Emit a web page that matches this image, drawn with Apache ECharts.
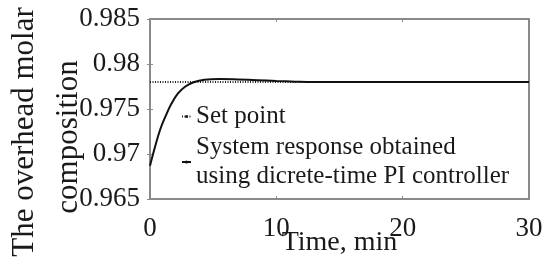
<!DOCTYPE html>
<html>
<head>
<meta charset="utf-8">
<script src="https://cdn.jsdelivr.net/npm/echarts@6/dist/echarts.min.js"></script>
<style>
  html, body { margin: 0; padding: 0; background: #fff; }
  #chart { width: 544px; height: 266px; }
</style>
</head>
<body>
<div id="chart"></div>
<script>
// values
var timeMin = [0, 0.4, 0.8, 1.2, 1.7, 2.2, 2.8, 3.5, 4.3, 5.5, 7, 8.5, 10, 11.5, 13, 15, 20, 25, 30];
var response = [0.9687, 0.9708, 0.9727, 0.9741, 0.9756, 0.9767, 0.9775, 0.9780, 0.97825, 0.97833, 0.97828, 0.9782, 0.97811, 0.97804, 0.978, 0.978, 0.978, 0.978, 0.978];
var setPointTime = [0, 30];
var setPointValue = [0.978, 0.978];
var seriesNames = ['Set point', 'System response obtained\nusing dicrete-time PI controller'];
var yTitle = ['The overhead molar', 'composition'];
var xTitle = 'Time, min';

var serif = 'Liberation Serif';
var boxColor = '#8a8a8a';

function pairs(xs, ys) {
  return xs.map(function (x, i) { return [x, ys[i]]; });
}

var chart = echarts.init(document.getElementById('chart'));

var option = {
  backgroundColor: '#fff',
  animation: false,
  grid: {
    left: 150, right: 15, top: 19, bottom: 67,
    outerBoundsMode: 'none',
    show: true, borderColor: boxColor, borderWidth: 2
  },
  legend: {
    orient: 'vertical',
    left: 181,
    top: 102,
    padding: 0,
    itemWidth: 9,
    itemHeight: 4,
    itemGap: 2,
    textStyle: { fontFamily: serif, fontSize: 25, color: '#1a1a1a', lineHeight: 29 },
    data: seriesNames
  },
  xAxis: [{
    type: 'value', min: 0, max: 30, interval: 10,
    axisLine: { show: false },
    axisTick: { show: true, inside: true, length: 3, lineStyle: { color: boxColor } },
    splitLine: { show: false },
    axisLabel: { fontFamily: serif, fontSize: 27, color: '#1a1a1a', margin: 16 },
    name: xTitle, nameLocation: 'middle', nameGap: 30, nameMoveOverlap: false,
    nameTextStyle: { fontFamily: serif, fontSize: 28, color: '#1a1a1a' }
  }, {
    type: 'value', min: 0, max: 30, interval: 10, position: 'top',
    axisLine: { show: false },
    axisTick: { show: true, inside: true, length: 3, lineStyle: { color: boxColor } },
    splitLine: { show: false },
    axisLabel: { show: false }
  }],
  yAxis: [{
    type: 'value', min: 0.965, max: 0.985, interval: 0.005,
    axisLine: { show: false },
    axisTick: { show: true, inside: true, length: 3, lineStyle: { color: boxColor } },
    splitLine: { show: false },
    axisLabel: { fontFamily: serif, fontSize: 27, color: '#1a1a1a', margin: 10, padding: [4, 0, 0, 0] }
  }, {
    type: 'value', min: 0.965, max: 0.985, interval: 0.005, position: 'right',
    axisLine: { show: false },
    axisTick: { show: true, inside: true, length: 3, lineStyle: { color: boxColor } },
    splitLine: { show: false },
    axisLabel: { show: false }
  }],
  series: [{
    name: seriesNames[0],
    type: 'line',
    symbol: 'none',
    data: pairs(setPointTime, setPointValue),
    lineStyle: { color: '#222', width: 2, type: [1, 1.5] },
    itemStyle: { color: '#222' }
  }, {
    name: seriesNames[1],
    type: 'line',
    symbol: 'none',
    smooth: 0.4,
    data: pairs(timeMin, response),
    lineStyle: { color: '#111', width: 2 },
    itemStyle: { color: '#111' }
  }],
  graphic: [{
    type: 'text', x: 25, y: 132, rotation: Math.PI / 2,
    style: { text: yTitle[0], x: 0, y: 0, align: 'center', verticalAlign: 'middle',
      font: '31px ' + serif, fill: '#1a1a1a' }
  }, {
    type: 'text', x: 69, y: 137, rotation: Math.PI / 2,
    style: { text: yTitle[1], x: 0, y: 0, align: 'center', verticalAlign: 'middle',
      font: '31px ' + serif, fill: '#1a1a1a' }
  }]
};

chart.setOption(option);
</script>
</body>
</html>
